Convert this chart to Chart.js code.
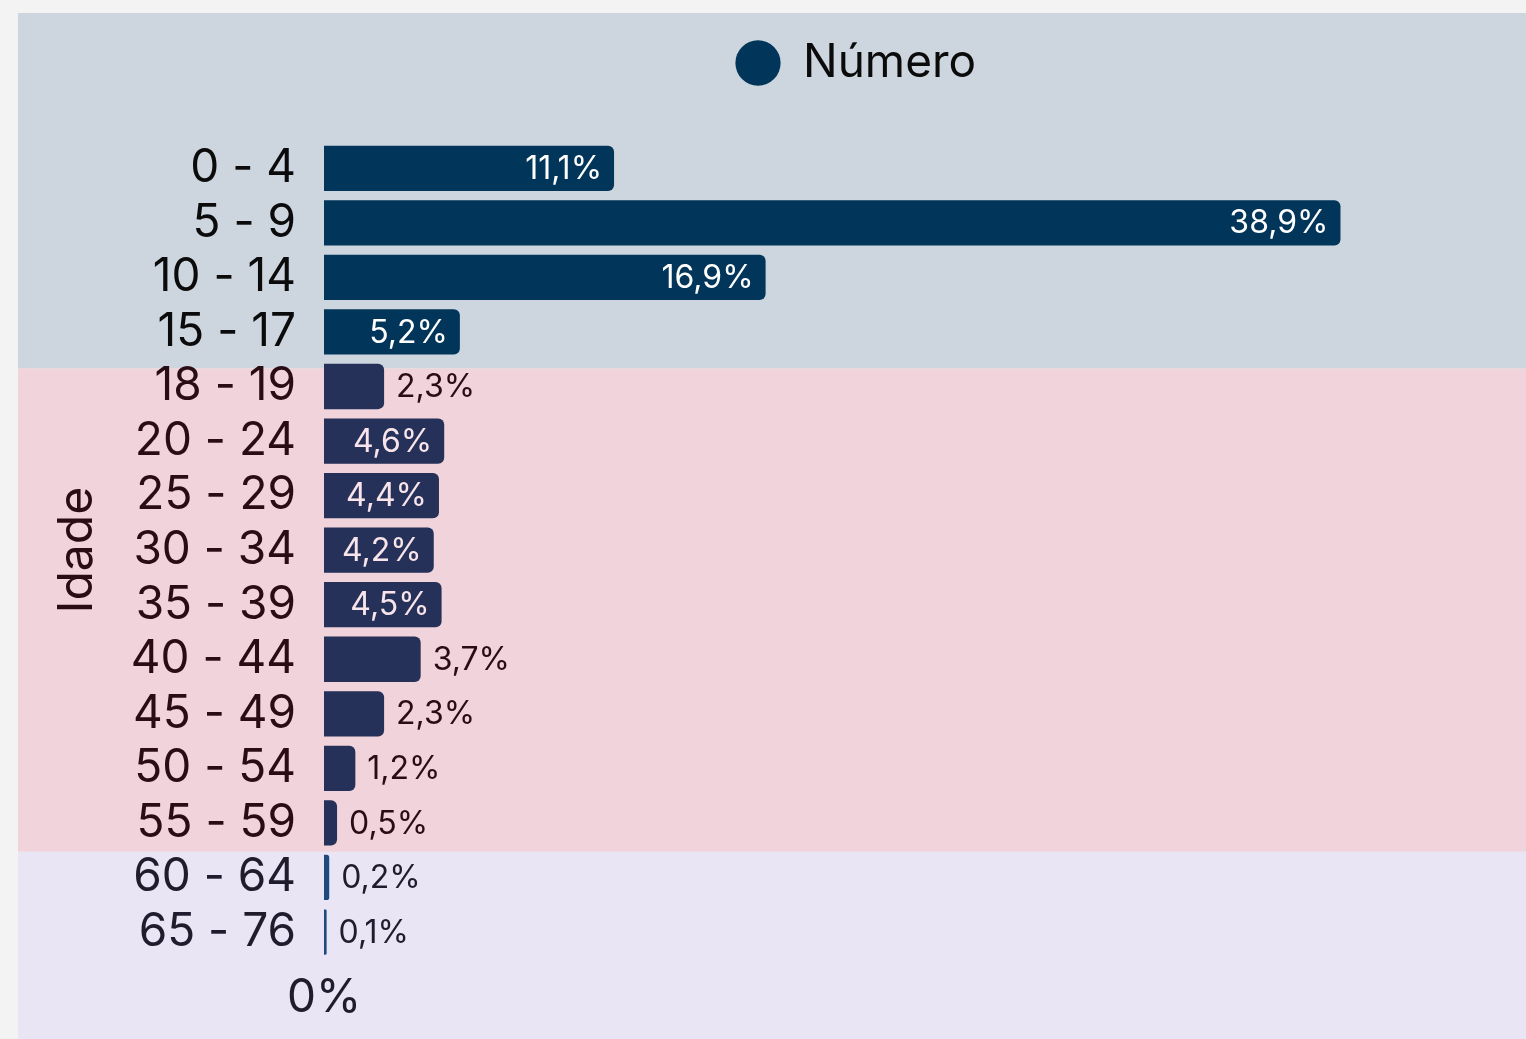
<!DOCTYPE html>
<html><head><meta charset="utf-8">
<script src="https://cdn.jsdelivr.net/npm/chart.js@4"></script>
<style>
html,body{margin:0;padding:0;background:#f3f3f3;width:1526px;height:1039px;overflow:hidden}
#wrap{position:absolute;left:18px;top:13px;width:1508px;height:1026px}
</style></head><body>
<div id="wrap"><canvas id="c"></canvas></div>
<script>
// ---- data ----
const categories = ['0 - 4','5 - 9','10 - 14','15 - 17','18 - 19','20 - 24','25 - 29','30 - 34','35 - 39','40 - 44','45 - 49','50 - 54','55 - 59','60 - 64','65 - 76'];
const shares = [11.1, 38.9, 16.9, 5.2, 2.3, 4.6, 4.4, 4.2, 4.5, 3.7, 2.3, 1.2, 0.5, 0.2, 0.1];
const bandOfCategory = [0,0,0,0,1,1,1,1,1,1,1,1,1,2,2];
const seriesLabel = 'Número';
const axisTitle = 'Idade';
const xTickLabels = {0: '0%'};

// ---- style ----
const FONT = 'Inter, "Liberation Sans", Arial, sans-serif';
const bandStyles = [
  {bg:'#cdd6df', bar:'#02355a', text:'#0b0b0b', inLabel:'#ffffff', outLabel:'#0b0b0b'},
  {bg:'#f0d3db', bar:'#253158', text:'#2a0c15', inLabel:'#f8e4ea', outLabel:'#2a0c15'},
  {bg:'#e9e5f5', bar:'#1e4a7e', text:'#1e1c2d', inLabel:'#ffffff', outLabel:'#1e1c2d'}
];
const bandEdges = [3.67, 12.53];
const insideMin = 4;
const LEGEND_PAD = 72;
const LEGEND_FONT = 46;
const LEGEND_BOX = 44;

const fmt = v => v.toFixed(1).replace('.', ',') + '%';

const bandsPlugin = {
  id: 'bands',
  beforeDraw(chart) {
    const {ctx, width, height} = chart;
    const y = chart.scales.y;
    const edges = [0, ...bandEdges.map(v => y.getPixelForValue(v)), height];
    ctx.save();
    for (let i = 0; i < bandStyles.length; i++) {
      ctx.fillStyle = bandStyles[i].bg;
      ctx.fillRect(0, edges[i], width, edges[i+1] - edges[i]);
    }
    ctx.restore();
  }
};

const labelsPlugin = {
  id: 'valueLabels',
  afterDatasetsDraw(chart) {
    const {ctx} = chart;
    const meta = chart.getDatasetMeta(0);
    ctx.save();
    ctx.font = '32px ' + FONT;
    ctx.textBaseline = 'middle';
    meta.data.forEach((bar, i) => {
      const v = shares[i];
      const st = bandStyles[bandOfCategory[i]];
      if (v >= insideMin) {
        ctx.textAlign = 'right';
        ctx.fillStyle = st.inLabel;
        ctx.fillText(fmt(v), bar.x - 12, bar.y + 1);
      } else {
        ctx.textAlign = 'left';
        ctx.fillStyle = st.outLabel;
        ctx.fillText(fmt(v), bar.x + 12, bar.y + 1);
      }
    });
    ctx.restore();
  }
};

const legendShift = {
  id: 'legendShift',
  afterLayout(chart) {
    const lg = chart.legend;
    if (!lg) return;
    const shift = 50 - (lg.top + LEGEND_PAD + LEGEND_FONT / 2);
    lg.top += shift; lg.bottom += shift;
    const w = lg.right - lg.left;
    lg.left = 740 - LEGEND_BOX / 2 - LEGEND_PAD;
    lg.right = lg.left + w;
  }
};

new Chart(document.getElementById('c'), {
  type: 'bar',
  data: {
    labels: categories,
    datasets: [{
      label: seriesLabel,
      data: shares,
      backgroundColor: bandOfCategory.map(b => bandStyles[b].bar),
      borderWidth: 0,
      borderRadius: 6,
      borderSkipped: 'start',
      barPercentage: 0.83,
      categoryPercentage: 1
    }]
  },
  options: {
    indexAxis: 'y',
    responsive: true,
    maintainAspectRatio: false,
    animation: false,
    devicePixelRatio: 1,
    layout: {padding: {top: 0, left: 0, right: 0, bottom: 2.5}},
    plugins: {
      legend: {
        position: 'top',
        align: 'start',
        labels: {
          usePointStyle: true,
          pointStyle: 'circle',
          boxWidth: LEGEND_BOX,
          boxHeight: 32,
          padding: LEGEND_PAD,
          color: '#0b0b0b',
          font: {family: FONT, size: LEGEND_FONT}
        }
      },
      tooltip: {enabled: false}
    },
    scales: {
      x: {
        type: 'linear',
        min: 0,
        max: 46,
        grid: {display: false, drawTicks: false},
        border: {display: false},
        afterBuildTicks: s => { s.ticks = Object.keys(xTickLabels).map(k => ({value: +k})); },
        ticks: {
          padding: 11,
          color: bandStyles[2].text,
          font: {family: FONT, size: 46},
          callback: v => xTickLabels[v] ?? ''
        }
      },
      y: {
        type: 'category',
        grid: {display: false, drawTicks: false},
        border: {display: false},
        afterFit: s => { s.width = 306; },
        ticks: {
          autoSkip: false,
          padding: 28,
          color: c => bandStyles[bandOfCategory[c.index]].text,
          font: {family: FONT, size: 46}
        },
        title: {
          display: true,
          text: axisTitle,
          color: bandStyles[1].text,
          font: {family: FONT, size: 48},
          padding: {top: 31, bottom: 0}
        }
      }
    }
  },
  plugins: [bandsPlugin, labelsPlugin, legendShift]
});
</script>
</body></html>
